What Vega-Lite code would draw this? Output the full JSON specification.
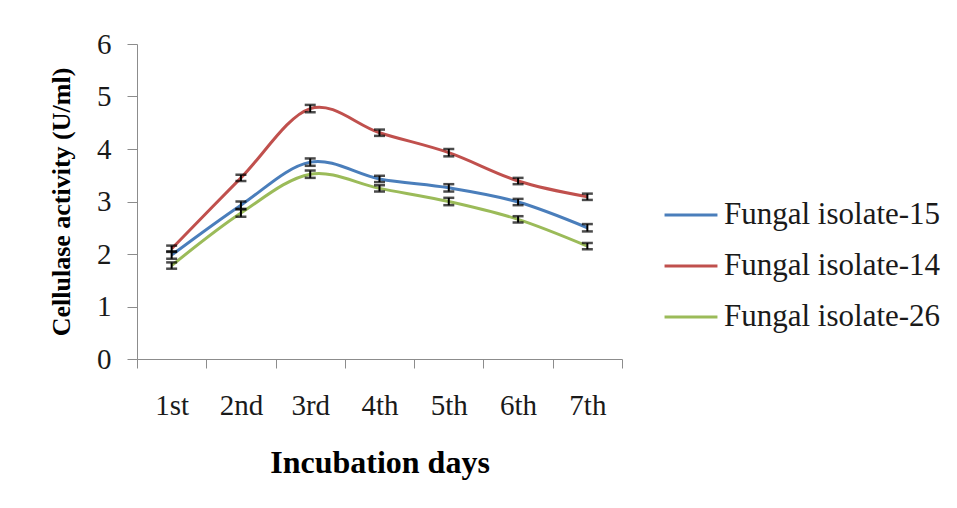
{
  "$schema": "https://vega.github.io/schema/vega-lite/v6.json",
  "autosize": {"type": "none"},
  "width": 485,
  "height": 315,
  "padding": {"left": 137, "top": 44, "right": 335, "bottom": 149},
  "background": "white",
  "config": {
    "view": {"stroke": null},
    "font": "Liberation Serif",
    "axis": {"grid": false, "domainColor": "#8c8c8c", "tickColor": "#8c8c8c", "labelColor": "#1a1a1a", "titleColor": "#000000", "labelFont": "Liberation Serif", "titleFont": "Liberation Serif"},
    "legend": {"labelFont": "Liberation Serif", "titleFont": "Liberation Serif"}
  },
  "data": {
    "values": [
      {"day": "1st", "series": "Fungal isolate-15", "value": 1.98, "err": 0.07},
      {"day": "2nd", "series": "Fungal isolate-15", "value": 2.93, "err": 0.07},
      {"day": "3rd", "series": "Fungal isolate-15", "value": 3.75, "err": 0.07},
      {"day": "4th", "series": "Fungal isolate-15", "value": 3.43, "err": 0.06},
      {"day": "5th", "series": "Fungal isolate-15", "value": 3.26, "err": 0.07},
      {"day": "6th", "series": "Fungal isolate-15", "value": 2.99, "err": 0.06},
      {"day": "7th", "series": "Fungal isolate-15", "value": 2.50, "err": 0.07},
      {"day": "1st", "series": "Fungal isolate-14", "value": 2.10, "err": 0.06},
      {"day": "2nd", "series": "Fungal isolate-14", "value": 3.45, "err": 0.06},
      {"day": "3rd", "series": "Fungal isolate-14", "value": 4.77, "err": 0.07},
      {"day": "4th", "series": "Fungal isolate-14", "value": 4.31, "err": 0.06},
      {"day": "5th", "series": "Fungal isolate-14", "value": 3.93, "err": 0.07},
      {"day": "6th", "series": "Fungal isolate-14", "value": 3.39, "err": 0.06},
      {"day": "7th", "series": "Fungal isolate-14", "value": 3.09, "err": 0.06},
      {"day": "1st", "series": "Fungal isolate-26", "value": 1.78, "err": 0.06},
      {"day": "2nd", "series": "Fungal isolate-26", "value": 2.78, "err": 0.07},
      {"day": "3rd", "series": "Fungal isolate-26", "value": 3.52, "err": 0.07},
      {"day": "4th", "series": "Fungal isolate-26", "value": 3.25, "err": 0.06},
      {"day": "5th", "series": "Fungal isolate-26", "value": 3.00, "err": 0.07},
      {"day": "6th", "series": "Fungal isolate-26", "value": 2.66, "err": 0.06},
      {"day": "7th", "series": "Fungal isolate-26", "value": 2.15, "err": 0.06}
    ]
  },
  "encoding": {
    "x": {
      "field": "day", "type": "ordinal",
      "sort": ["1st", "2nd", "3rd", "4th", "5th", "6th", "7th"],
      "scale": {"type": "band", "paddingInner": 0, "paddingOuter": 0},
      "axis": {
        "title": "Incubation days", "titleFontSize": 32, "titleFontWeight": "bold", "titlePadding": 27, "titleFont": "Liberation Serif",
        "labelFontSize": 29, "labelPadding": 23, "labelAngle": 0, "tickBand": "extent", "tickSize": 9
      }
    },
    "y": {
      "field": "value", "type": "quantitative",
      "scale": {"domain": [0, 6]},
      "axis": {
        "title": "Cellulase activity (U/ml)", "titleFontSize": 26, "titleFontWeight": "bold", "titlePadding": 22, "titleFont": "Liberation Serif",
        "labelFontSize": 29, "labelPadding": 16, "tickSize": 10, "values": [0, 1, 2, 3, 4, 5, 6],
        "encode": {"title": {"update": {"font": {"value": "Liberation Serif"}}}}
      }
    }
  },
  "layer": [
    {
      "mark": {"type": "line", "interpolate": "cardinal", "strokeWidth": 3},
      "encoding": {
        "color": {
          "field": "series", "type": "nominal",
          "scale": {"domain": ["Fungal isolate-15", "Fungal isolate-14", "Fungal isolate-26"], "range": ["#4a7ebb", "#c0504d", "#9bbb59"]},
          "legend": {
            "title": null, "orient": "none", "legendX": 526, "legendY": 143,
            "symbolType": "stroke", "symbolSize": 2800, "symbolStrokeWidth": 3,
            "labelFontSize": 31, "labelFont": "Liberation Serif", "labelColor": "#1a1a1a",
            "rowPadding": 8, "labelOffset": 5, "labelLimit": 400,
            "encode": {"labels": {"update": {"font": {"value": "Liberation Serif"}, "fontSize": {"value": 31}}}}
          }
        }
      }
    },
    {
      "mark": {"type": "errorbar", "color": "black", "thickness": 2, "ticks": {"size": 11, "thickness": 2.5, "color": "black"}},
      "encoding": {
        "yError": {"field": "err"},
        "detail": {"field": "series"}
      }
    }
  ]
}
